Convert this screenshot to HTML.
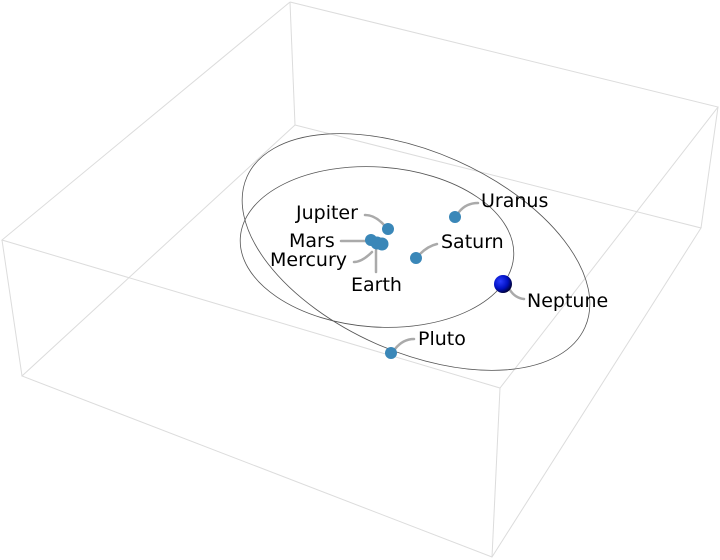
<!DOCTYPE html>
<html><head><style>body{margin:0;background:#fff}svg{display:block}text{font-family:"DejaVu Sans","Liberation Sans",sans-serif;font-size:19px;fill:#000}</style></head><body>
<svg width="720" height="560" viewBox="0 0 720 560">
<defs><radialGradient id="g" cx="0.35" cy="0.35" r="0.7"><stop offset="0" stop-color="#2a3cff"/><stop offset="0.6" stop-color="#0010c0"/><stop offset="1" stop-color="#000030"/></radialGradient></defs>
<g stroke="#dcdcdc" stroke-width="1" fill="none">
<polyline points="290,2 2,240 500,388 718,107 290,2"/>
<polyline points="295,125 22,376 492,557 701,228 295,125"/>
<line x1="290" y1="2" x2="295" y2="125"/><line x1="2" y1="240" x2="22" y2="376"/>
<line x1="718" y1="107" x2="701" y2="228"/><line x1="500" y1="388" x2="492" y2="557"/>
</g>
<g stroke="#555" stroke-width="0.8" fill="none">
<ellipse cx="377" cy="247" rx="137" ry="80" transform="rotate(4 377 247)"/>
<ellipse cx="416" cy="252" rx="185" ry="100" transform="rotate(24 416 252)"/>
</g>
<g stroke="#aaa" stroke-width="2.5" fill="none" stroke-linecap="round">
<path d="M365 215 Q375 215 384 225"/><path d="M341 241 L365 241"/><path d="M354 262 Q362 262 372 252"/><path d="M376 250 L376 272"/>
<path d="M420 254 Q428 246 437 244"/><path d="M459 212 Q466 203 478 203"/><path d="M510 290 Q515 298 524 299"/><path d="M395 349 Q403 339 414 339"/>
</g>
<g fill="#3a87b8">
<circle cx="388" cy="229" r="6"/><circle cx="371" cy="240" r="6"/><circle cx="377" cy="243" r="6.5"/><circle cx="382" cy="244" r="6.5"/>
<circle cx="416" cy="258" r="6"/><circle cx="455" cy="217" r="6"/><circle cx="391" cy="353" r="6"/>
</g>
<circle cx="503" cy="284" r="9" fill="url(#g)"/>
<text x="296" y="219">Jupiter</text><text x="289" y="247">Mars</text><text x="270" y="266">Mercury</text><text x="351" y="291">Earth</text>
<text x="441" y="248">Saturn</text><text x="481" y="207">Uranus</text><text x="527" y="307">Neptune</text><text x="418" y="345">Pluto</text>
</svg></body></html>
